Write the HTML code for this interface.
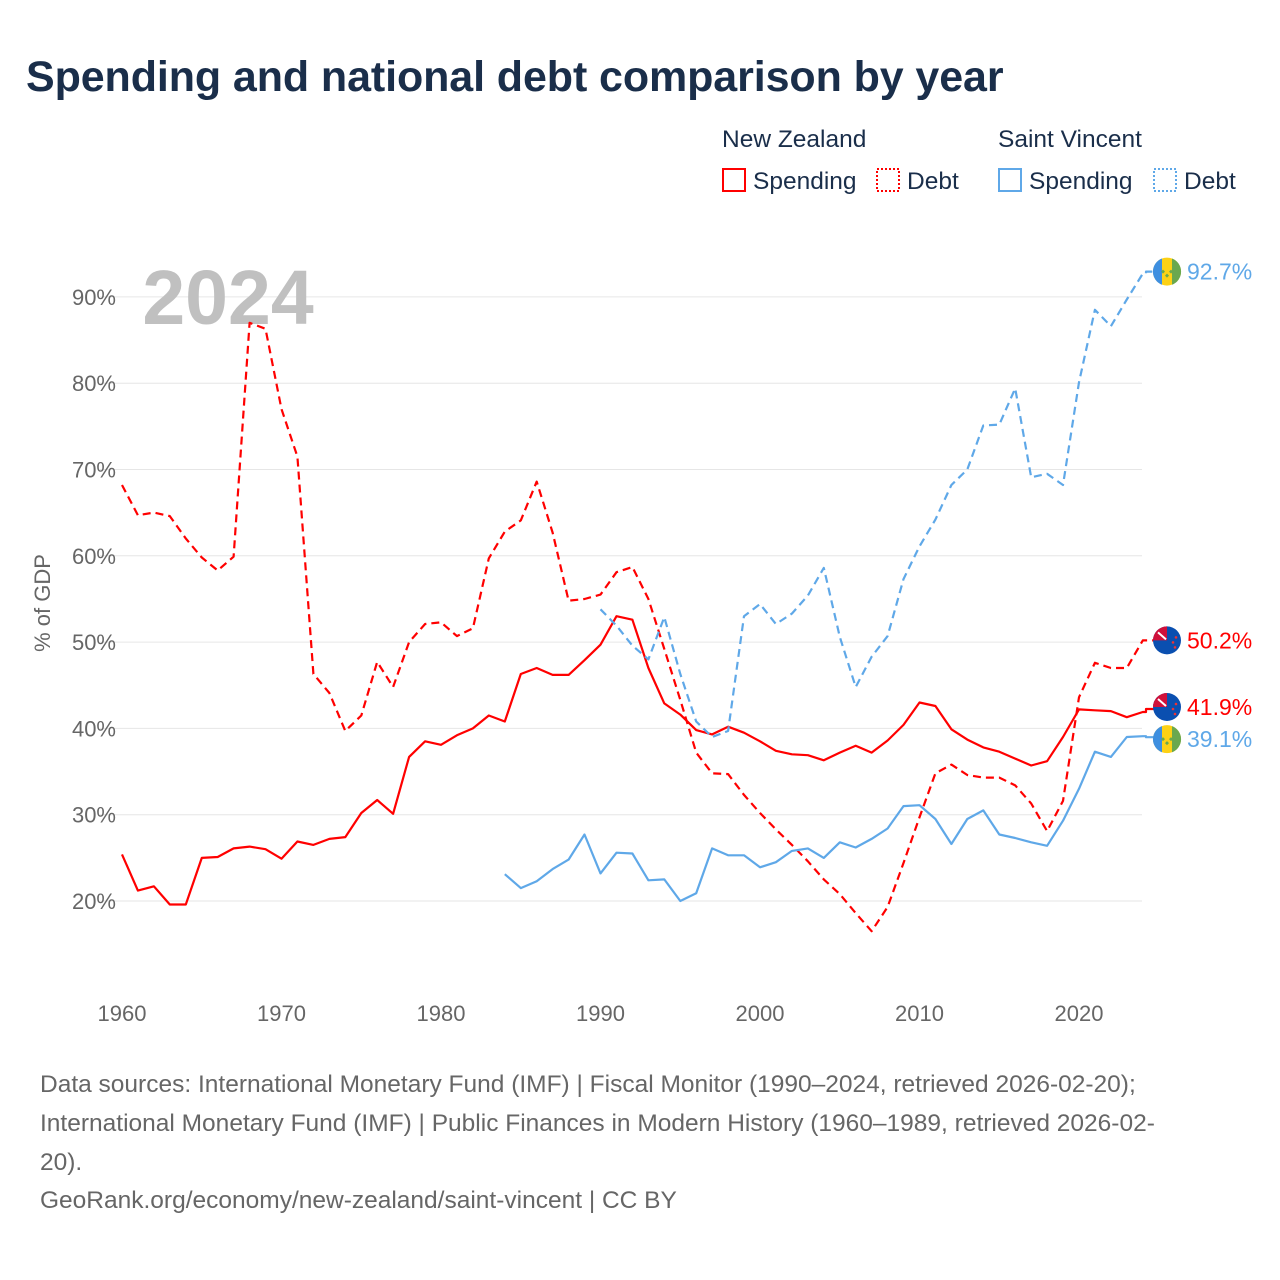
<!DOCTYPE html>
<html><head><meta charset="utf-8">
<style>
body{margin:0;background:#fff;font-family:"Liberation Sans",sans-serif;}
#wrap{position:relative;width:1280px;height:1280px;overflow:hidden;}
h1{position:absolute;left:26px;top:53px;margin:0;font-size:43px;font-weight:bold;color:#1a2e4a;letter-spacing:-0.1px;white-space:nowrap;}
.src{position:absolute;left:40px;top:1066px;width:1230px;font-size:24.5px;line-height:38.8px;color:#666;white-space:nowrap;}
</style></head><body>
<div id="wrap">
<h1>Spending and national debt comparison by year</h1>
<svg id="chart" width="1280" height="1280" style="position:absolute;left:0;top:0"></svg>
<div class="src">Data sources: International Monetary Fund (IMF) | Fiscal Monitor (1990–2024, retrieved 2026-02-20);<br>International Monetary Fund (IMF) | Public Finances in Modern History (1960–1989, retrieved 2026-02-<br>20).<br>GeoRank.org/economy/new-zealand/saint-vincent | CC BY</div>
</div>
<script>
const yTicks=[20,30,40,50,60,70,80,90];
const xTicks=[1960,1970,1980,1990,2000,2010,2020];
const nzSpendStart=1960;
const nzSpending=[25.4,21.2,21.7,19.6,19.6,25.0,25.1,26.1,26.3,26.0,24.9,26.9,26.5,27.2,27.4,30.2,31.7,30.1,36.7,38.5,38.1,39.2,40.0,41.5,40.8,46.3,47.0,46.2,46.2,47.9,49.7,53.0,52.6,47.0,42.9,41.6,39.8,39.3,40.2,39.5,38.5,37.4,37.0,36.9,36.3,37.2,38.0,37.2,38.6,40.4,43.0,42.6,39.9,38.7,37.8,37.3,36.5,35.7,36.2,39.0,42.2,42.1,42.0,41.3,41.9];
const nzDebtStart=1960;
const nzDebt=[68.2,64.7,65.0,64.6,62.0,59.8,58.3,59.9,87.0,86.3,77.0,71.5,46.3,44.1,39.7,41.5,47.7,44.8,50.0,52.1,52.3,50.7,51.6,59.7,62.8,64.1,68.6,62.7,54.8,55.0,55.5,58.1,58.7,55.0,49.2,43.3,37.2,34.8,34.7,32.3,30.2,28.3,26.5,24.6,22.5,20.8,18.6,16.5,19.3,24.4,29.7,34.8,35.8,34.6,34.3,34.3,33.4,31.3,28.1,31.6,43.6,47.6,47.0,47.0,50.2];
const svSpendStart=1984;
const svSpending=[23.1,21.5,22.3,23.7,24.8,27.7,23.2,25.6,25.5,22.4,22.5,20.0,20.9,26.1,25.3,25.3,23.9,24.5,25.8,26.1,25.0,26.8,26.2,27.2,28.4,31.0,31.1,29.5,26.6,29.5,30.5,27.7,27.3,26.8,26.4,29.3,33.0,37.3,36.7,39.0,39.1];
const svDebtStart=1990;
const svDebt=[53.8,51.9,49.6,48.0,52.9,46.3,40.8,39.0,39.7,53.0,54.4,52.1,53.3,55.4,58.6,50.6,44.8,48.3,50.7,57.3,61.1,64.2,68.2,70.0,75.1,75.2,79.4,69.1,69.5,68.2,80.1,88.5,86.6,89.7,92.7];

const NS='http://www.w3.org/2000/svg';
const svg=document.getElementById('chart');
const X=yr=>122+(yr-1960)*15.95;
const Y=v=>901-(v-20)*8.63;
function mk(t,a,p){const e=document.createElementNS(NS,t);for(const k in a)e.setAttribute(k,a[k]);(p||svg).appendChild(e);return e;}

for(const t of yTicks){
  const g=mk('line',{x1:100,x2:1142,y1:Y(t),y2:Y(t),stroke:'#e6e6e6','stroke-width':1});
  
  
  const l=mk('text',{x:116,y:Y(t)+8,'text-anchor':'end','font-size':22,fill:'#666'});l.textContent=t+'%';
  
  
}
for(const t of xTicks){
  const l=mk('text',{x:X(t),y:1021,'text-anchor':'middle','font-size':22,fill:'#666'});l.textContent=t;
  
  
}
const yt=mk('text',{x:0,y:0,transform:'translate(50,603) rotate(-90)','text-anchor':'middle','font-size':22,fill:'#666'});yt.textContent='% of GDP';


const yr=mk('text',{x:228,y:324,'text-anchor':'middle','font-size':77,'font-weight':'bold',fill:'#c0c0c0'});yr.textContent='2024';



function series(vals,start,color,dash,name,endY){
  let d='';vals.forEach((v,i)=>{d+=(i?'L':'M')+X(start+i).toFixed(1)+','+Y(v).toFixed(1);});
  d+='L1146,'+Y(vals[vals.length-1]).toFixed(1)+'L1146,'+endY.toFixed(1)+'L1155,'+endY.toFixed(1);
  const p=mk('path',{d:d,fill:'none',stroke:color,'stroke-width':2.2,'stroke-dasharray':dash||'none','stroke-linejoin':'round'});
  
  
}
const svDebtEndY=Y(svDebt[svDebt.length-1])-2;
const nzDebtEndY=Y(nzDebt[nzDebt.length-1]);
const nzSpendEndY=Y(nzSpending[nzSpending.length-1])-3;
const svSpendEndY=Y(svSpending[svSpending.length-1])+1;
series(nzDebt,nzDebtStart,'#ff0000','8 5','nz-debt-line',nzDebtEndY);
series(nzSpending,nzSpendStart,'#ff0000',null,'nz-spending-line',nzSpendEndY);
series(svDebt,svDebtStart,'#5fa8e8','8 5','sv-debt-line',svDebtEndY);
series(svSpending,svSpendStart,'#5fa8e8',null,'sv-spending-line',svSpendEndY);

function flag(v,cy,country,color,name){
  const cx=1167;
  const g=mk('g',{});
  
  
  if(country==='sv'){
    mk('circle',{cx:cx,cy:cy,r:14,fill:'#fcd116'},g);
    mk('path',{d:`M${cx-5},${cy-13.1} A14,14 0 0 0 ${cx-5},${cy+13.1} Z`,fill:'#3e8fe0'},g);
    mk('path',{d:`M${cx+5},${cy-13.1} A14,14 0 0 1 ${cx+5},${cy+13.1} Z`,fill:'#6aa84f'},g);
    mk('path',{d:`M${cx-4},${cy-2}l2,2-2,2-2-2zM${cx+4},${cy-2}l2,2-2,2-2-2zM${cx},${cy+2}l2,2-2,2-2-2z`,fill:'#6aa84f'},g);
  }else{
    mk('circle',{cx:cx,cy:cy,r:14,fill:'#0a4fb0'},g);
    mk('path',{d:`M${cx-14},${cy} A14,14 0 0 1 ${cx},${cy-14} L${cx},${cy} Z`,fill:'#d0103a'},g);
    mk('path',{d:`M${cx-9},${cy-8}l8,7`,stroke:'#fff','stroke-width':2},g);
    mk('circle',{cx:cx+6,cy:cy+2,r:1.3,fill:'#e33'},g);
    mk('circle',{cx:cx+9,cy:cy-3,r:1.3,fill:'#e33'},g);
    mk('circle',{cx:cx+8,cy:cy+7,r:1.3,fill:'#e33'},g);
  }
  const t=mk('text',{x:1187,y:cy+8,'font-size':23,fill:color});t.textContent=v.toFixed(1)+'%';
  
  
}
flag(svDebt[svDebt.length-1],svDebtEndY,'sv','#5fa8e8','sv-debt-end-marker');
flag(nzDebt[nzDebt.length-1],nzDebtEndY,'nz','#ff0000','nz-debt-end-marker');
flag(nzSpending[nzSpending.length-1],nzSpendEndY-2,'nz','#ff0000','nz-spending-end-marker');
flag(svSpending[svSpending.length-1],svSpendEndY+2,'sv','#5fa8e8','sv-spending-end-marker');

function legText(x,y,s,name){const t=mk('text',{x:x,y:y,'font-size':24.5,fill:'#1a2e4a'});t.textContent=s;
  
  }
legText(722,147,'New Zealand','legend-group-nz');
legText(998,147,'Saint Vincent','legend-group-sv');
function legEntry(x,color,dash,label,name){
  const r=mk('rect',{x:x,y:169,width:22,height:22,fill:'none',stroke:color,'stroke-width':2,'stroke-dasharray':dash||'none'});
  
  
  const t=mk('text',{x:x+30,y:189,'font-size':24.5,fill:'#1a2e4a'});t.textContent=label;
  
  
}
legEntry(723,'#ff0000',null,'Spending','legend-nz-spending');
legEntry(877,'#ff0000','2 2','Debt','legend-nz-debt');
legEntry(999,'#5fa8e8',null,'Spending','legend-sv-spending');
legEntry(1154,'#5fa8e8','2 2','Debt','legend-sv-debt');
</script>
</body></html>
